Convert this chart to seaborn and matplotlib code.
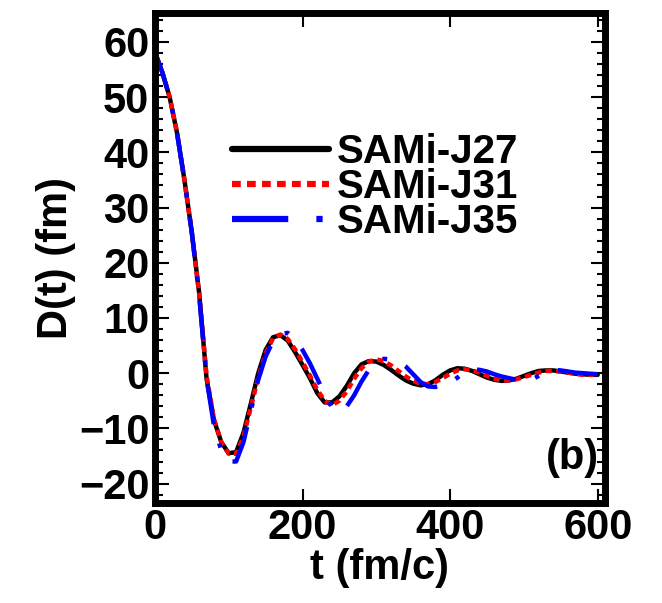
import numpy as np
import pandas as pd
import matplotlib
matplotlib.use("Agg")
import matplotlib.pyplot as plt
from matplotlib.ticker import MultipleLocator
import seaborn as sns

# time grid (fm/c) and dipole moment D(t) in fm for each interaction
t = list(range(0, 601, 10))

d_j27 = [58.2, 54.5, 50.0, 43.5, 35.0, 25.5, 14.5, -1.0, -8.5, -12.5,
         -14.5, -14.3, -10.8, -5.5, 0.0, 4.2, 6.5, 6.9, 5.9, 3.8,
         1.5, -0.9, -3.6, -5.3, -5.3, -4.2, -2.3, 0.0, 1.6, 2.2,
         2.1, 1.5, 0.6, -0.4, -1.3, -1.9, -2.2, -2.0, -1.3, -0.3,
         0.5, 0.9, 0.8, 0.4, -0.2, -0.8, -1.2, -1.4, -1.3, -1.0,
         -0.5, 0.0, 0.4, 0.5, 0.5, 0.3, 0.1, -0.1, -0.2, -0.3, -0.3]

d_j31 = [58.2, 54.5, 50.0, 43.5, 35.0, 25.5, 14.3, -0.5, -8.3, -12.5,
         -14.6, -14.6, -11.5, -6.2, -0.8, 3.6, 6.3, 7.0, 6.2, 4.3,
         2.0, -0.4, -3.0, -5.0, -5.8, -5.0, -3.3, -1.0, 0.9, 2.1,
         2.5, 2.2, 1.4, 0.4, -0.6, -1.4, -1.9, -2.0, -1.6, -0.9,
         -0.1, 0.5, 0.7, 0.5, 0.1, -0.5, -1.0, -1.3, -1.3, -1.1,
         -0.7, -0.3, 0.1, 0.4, 0.4, 0.3, 0.1, -0.1, -0.3, -0.3, -0.3]

d_j35 = [58.2, 54.5, 50.0, 43.5, 35.0, 25.5, 14.0, -1.0, -9.5, -14.0,
         -16.0, -16.0, -12.5, -6.8, -1.2, 3.0, 5.8, 7.1, 7.3, 6.2,
         4.2, 1.8, -1.0, -3.8, -6.2, -7.0, -6.0, -4.0, -1.5, 0.6,
         2.0, 2.6, 2.5, 2.2, 1.2, -0.2, -1.6, -2.4, -2.5, -2.2,
         -1.7, -0.8, 0.3, 0.7, 0.6, 0.3, -0.2, -0.6, -0.9, -1.2,
         -1.3, -1.2, -0.5, 0.2, 0.6, 0.5, 0.3, 0.1, 0.0, -0.1, -0.2]

labels = ["SAMi-J27", "SAMi-J31", "SAMi-J35"]
colors = {"SAMi-J27": "#000000", "SAMi-J31": "#ff0000", "SAMi-J35": "#0000ff"}
dashes = {"SAMi-J27": "", "SAMi-J31": (1.4, 1.0), "SAMi-J35": (9, 4.5, 1, 4.5)}

x_ticks = [0, 200, 400, 600]
y_ticks = [-20, -10, 0, 10, 20, 30, 40, 50, 60]

df = pd.concat([
    pd.DataFrame({"t": t, "D": d, "model": name})
    for name, d in zip(labels, [d_j27, d_j31, d_j35])
], ignore_index=True)

sns.set_theme(style="ticks")
plt.rcParams["font.family"] = ["Liberation Sans", "DejaVu Sans"]
plt.rcParams["font.weight"] = "bold"
plt.rcParams["text.color"] = "black"
plt.rcParams["axes.labelcolor"] = "black"
plt.rcParams["xtick.color"] = "black"
plt.rcParams["ytick.color"] = "black"

fig = plt.figure(figsize=(6.62, 6.03), dpi=100)
ax = fig.add_axes([0.234, 0.166, 0.680, 0.812])

sns.lineplot(data=df, x="t", y="D", hue="model", style="model",
             palette=colors, dashes=dashes, linewidth=3.2, ax=ax,
             sort=False, estimator=None)

ax.set_xlim(0, 610)
ax.set_ylim(-23.5, 65.2)
ax.set_xticks(x_ticks)
ax.set_yticks(y_ticks)
ax.yaxis.set_minor_locator(MultipleLocator(2))
ax.tick_params(axis="both", which="both", direction="in", top=True, right=True,
               labelsize=30, colors="black", labelcolor="black", pad=4)
ax.tick_params(axis="both", which="major", length=10, width=1.5)
ax.tick_params(axis="y", which="minor", length=6, width=1.5)
for lab in ax.get_xticklabels() + ax.get_yticklabels():
    lab.set_fontweight("bold")
for sp in ax.spines.values():
    sp.set_linewidth(5)
    sp.set_color("black")

ax.set_xlabel("t (fm/c)", fontsize=30, fontweight="bold", labelpad=0,
              color="black")
ax.set_ylabel("D(t) (fm)", fontsize=30, fontweight="bold", labelpad=2,
              color="black")

leg = ax.legend(loc="upper left", bbox_to_anchor=(0.172, 0.755), frameon=False,
                fontsize=29, handlelength=2.4, handletextpad=0.2,
                labelspacing=-0.08, borderpad=0, borderaxespad=0)
for txt in leg.get_texts():
    txt.set_fontweight("bold")
    txt.set_color("black")
for h in leg.get_lines():
    h.set_linewidth(4.5)

ax.text(0.927, 0.092, "(b)", transform=ax.transAxes, fontsize=30,
        fontweight="bold", ha="center", va="center", color="black")

fig.savefig("out.png", dpi=100)
